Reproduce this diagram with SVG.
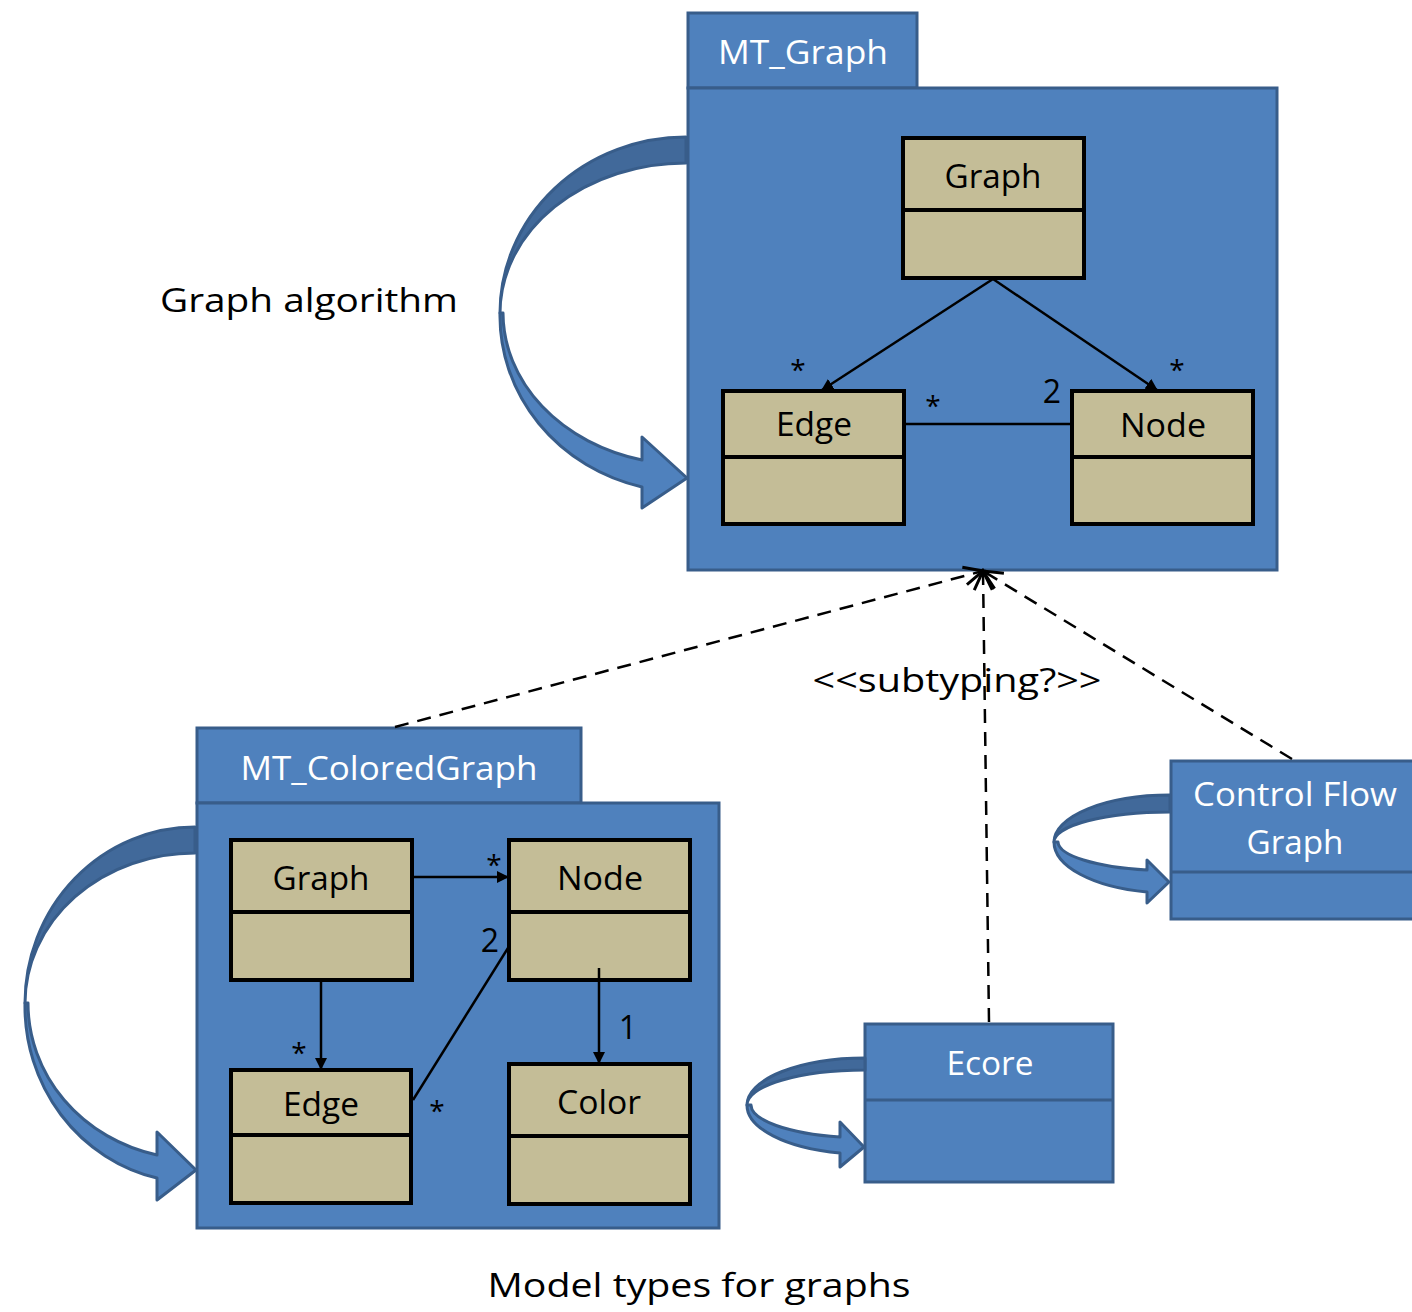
<svg xmlns="http://www.w3.org/2000/svg" width="1412" height="1312" viewBox="0 0 1412 1312">
<style>
.pkg{fill:#4F81BD;stroke:#385D8A;stroke-width:3}
.cls{fill:#C4BD97;stroke:#000;stroke-width:4}
.back{fill:#41699A;stroke:#385D8A;stroke-width:3;stroke-linejoin:round}
.front{fill:#4F81BD;stroke:#385D8A;stroke-width:3;stroke-linejoin:round}
.wt{font-family:"Open Sans","Noto Sans",sans-serif;fill:#fff;font-size:32px;text-anchor:middle}
.bt{font-family:"Open Sans","Noto Sans",sans-serif;fill:#000;font-size:32px;text-anchor:middle}
.m{font-family:"Open Sans","Noto Sans",sans-serif;fill:#000;font-size:28px;text-anchor:middle}
.ln{stroke:#000;stroke-width:2.5;fill:none}
.dash{stroke:#000;stroke-width:2.5;fill:none;stroke-dasharray:14 9}
</style>
<defs>
<marker id="fa" markerWidth="12" markerHeight="12" refX="11" refY="6" orient="auto" markerUnits="userSpaceOnUse" viewBox="0 0 12 12">
<path d="M0,0 L12,6 L0,12 Z" fill="#000"/>
</marker>
<marker id="oa" markerWidth="24" markerHeight="24" refX="21" refY="12" orient="auto" markerUnits="userSpaceOnUse" viewBox="0 0 24 24">
<path d="M2,3 L21,12 L2,21" fill="none" stroke="#000" stroke-width="3" stroke-dasharray="none"/>
</marker>
</defs>

<g id="mt_graph">
<rect class="pkg" x="688" y="13" width="229" height="75"/>
<rect class="pkg" x="688" y="88" width="589" height="482"/>
<text class="wt" x="803" y="64" textLength="170" lengthAdjust="spacingAndGlyphs">MT_Graph</text>
</g>
<g id="g_graph">
<rect class="cls" x="903" y="138" width="181" height="140"/>
<line x1="903" y1="210" x2="1084" y2="210" stroke="#000" stroke-width="4"/>
<text class="bt" x="993" y="188" textLength="97" lengthAdjust="spacingAndGlyphs">Graph</text>
</g>
<g id="g_edge">
<rect class="cls" x="723" y="391" width="181" height="133"/>
<line x1="723" y1="457" x2="904" y2="457" stroke="#000" stroke-width="4"/>
<text class="bt" x="814" y="436" textLength="76" lengthAdjust="spacingAndGlyphs">Edge</text>
</g>
<g id="g_node">
<rect class="cls" x="1072" y="391" width="181" height="133"/>
<line x1="1072" y1="457" x2="1253" y2="457" stroke="#000" stroke-width="4"/>
<text class="bt" x="1163" y="437" textLength="86" lengthAdjust="spacingAndGlyphs">Node</text>
</g>

<g id="mt_colored">
<rect class="pkg" x="197" y="728" width="384" height="75"/>
<rect class="pkg" x="197" y="803" width="522" height="425"/>
<text class="wt" x="389" y="780" textLength="297" lengthAdjust="spacingAndGlyphs">MT_ColoredGraph</text>
</g>
<g id="c_graph">
<rect class="cls" x="231" y="840" width="181" height="140"/>
<line x1="231" y1="912" x2="412" y2="912" stroke="#000" stroke-width="4"/>
<text class="bt" x="321" y="890" textLength="97" lengthAdjust="spacingAndGlyphs">Graph</text>
</g>
<g id="c_node">
<rect class="cls" x="509" y="840" width="181" height="140"/>
<line x1="509" y1="912" x2="690" y2="912" stroke="#000" stroke-width="4"/>
<text class="bt" x="600" y="890" textLength="86" lengthAdjust="spacingAndGlyphs">Node</text>
</g>
<g id="c_edge">
<rect class="cls" x="231" y="1070" width="180" height="133"/>
<line x1="231" y1="1135" x2="411" y2="1135" stroke="#000" stroke-width="4"/>
<text class="bt" x="321" y="1116" textLength="76" lengthAdjust="spacingAndGlyphs">Edge</text>
</g>
<g id="c_color">
<rect class="cls" x="509" y="1064" width="181" height="140"/>
<line x1="509" y1="1136" x2="690" y2="1136" stroke="#000" stroke-width="4"/>
<text class="bt" x="599" y="1114" textLength="84" lengthAdjust="spacingAndGlyphs">Color</text>
</g>

<g id="ecore">
<rect class="pkg" x="865" y="1024" width="248" height="158"/>
<line x1="865" y1="1100" x2="1113" y2="1100" stroke="#385D8A" stroke-width="3"/>
<text class="wt" x="990" y="1075" textLength="87" lengthAdjust="spacingAndGlyphs">Ecore</text>
</g>
<g id="cfg">
<rect class="pkg" x="1171" y="761" width="245" height="158"/>
<line x1="1171" y1="872" x2="1416" y2="872" stroke="#385D8A" stroke-width="3"/>
<text class="wt" x="1295" y="806" textLength="204" lengthAdjust="spacingAndGlyphs">Control Flow</text>
<text class="wt" x="1295" y="854" textLength="97" lengthAdjust="spacingAndGlyphs">Graph</text>
</g>

<g id="curved_arrows">
<path class="back" d="M686,137 A186,176 0 0 0 500,313 A186,150 0 0 1 686,163 Z"/>
<path class="front" d="M500,313 A186,176 0 0 0 642,487 L642,508 L687,478 L642,437 L642,460 A183,152 0 0 1 503,313 Z"/>
<path class="back" d="M195,827 A170,176 0 0 0 25,1003 A170,150 0 0 1 195,853 Z"/>
<path class="front" d="M25,1003 A170,176 0 0 0 157,1178 L157,1200 L196,1170 L157,1132 L157,1155 A167,156 0 0 1 28,1003 Z"/>
<path class="back" d="M865,1058 A118,47 0 0 0 747,1105 A118,35 0 0 1 865,1070 Z"/>
<path class="front" d="M747,1105 A118,49 0 0 0 840,1153 L840,1167 L864,1147 L840,1122 L840,1137 A114,33 0 0 1 751,1105 Z"/>
<path class="back" d="M1170,795 A116,47 0 0 0 1054,842 A116,30 0 0 1 1170,812 Z"/>
<path class="front" d="M1054,842 A116,51 0 0 0 1147,892 L1147,903 L1169,882 L1147,860 L1147,870 A112,29 0 0 1 1058,842 Z"/>
</g>

<g id="connectors">
<line class="ln" x1="993" y1="279" x2="822" y2="390" marker-end="url(#fa)"/>
<line class="ln" x1="993" y1="279" x2="1157" y2="390" marker-end="url(#fa)"/>
<line class="ln" x1="904" y1="424" x2="1072" y2="424"/>
<line class="ln" x1="412" y1="877" x2="508" y2="877" marker-end="url(#fa)"/>
<line class="ln" x1="321" y1="980" x2="321" y2="1069" marker-end="url(#fa)"/>
<line class="ln" x1="413" y1="1100" x2="508" y2="948"/>
<line class="ln" x1="599" y1="968" x2="599" y2="1063" marker-end="url(#fa)"/>
<line class="dash" x1="395" y1="727" x2="983" y2="571" marker-end="url(#oa)"/>
<line class="dash" x1="989" y1="1022" x2="983" y2="571" marker-end="url(#oa)"/>
<line class="dash" x1="1292" y1="759" x2="983" y2="571" marker-end="url(#oa)"/>
</g>

<g id="labels">
<text class="m" x="798" y="380">*</text>
<text class="m" x="1177" y="380">*</text>
<text class="m" x="933" y="416">*</text>
<text class="bt" x="1052" y="403">2</text>
<text class="m" x="494" y="875">*</text>
<text class="m" x="299" y="1063">*</text>
<text class="bt" x="490" y="952">2</text>
<text class="m" x="437" y="1121">*</text>
<text class="bt" x="628" y="1039">1</text>
<text class="bt" x="309" y="312" font-size="36" textLength="298" lengthAdjust="spacingAndGlyphs">Graph algorithm</text>
<text class="bt" x="957" y="692" font-size="34" textLength="289" lengthAdjust="spacingAndGlyphs">&lt;&lt;subtyping?&gt;&gt;</text>
<text class="bt" x="699" y="1297" font-size="36" textLength="423" lengthAdjust="spacingAndGlyphs">Model types for graphs</text>
</g>
</svg>
